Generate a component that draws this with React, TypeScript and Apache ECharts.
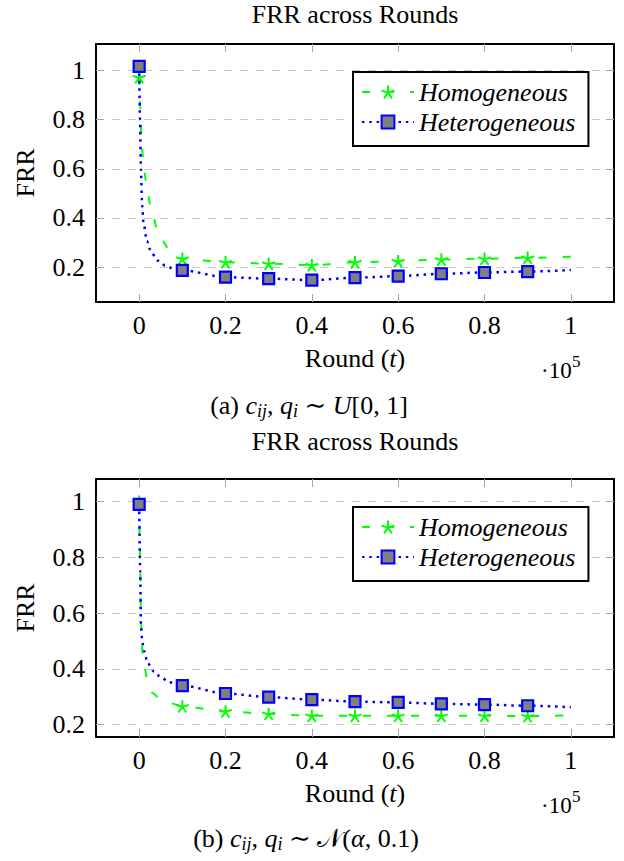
import React, { useEffect, useRef } from 'react';
import * as echarts from 'echarts';

const FONT = "'Liberation Serif', 'Times New Roman', 'DejaVu Serif', serif";

// Shared x values (markers every 10^4 rounds)
const ROUNDS = [0, 10000, 20000, 30000, 40000, 50000, 60000, 70000, 80000, 90000];
const ROUND_END = 100000;
const X_TICKS = [0, 20000, 40000, 60000, 80000, 100000];
const Y_TICKS = [0.2, 0.4, 0.6, 0.8, 1];

// (a) c_ij, q_i ~ U[0,1]
const A_HOM = [0.973, 0.234, 0.22, 0.214, 0.208, 0.22, 0.224, 0.231, 0.234, 0.238];
const A_HOM_END = 0.242;
const A_HOM_EARLY_X = [250, 600, 1200, 1900, 2900, 4800, 7800];
const A_HOM_EARLY_Y = [0.85, 0.69, 0.585, 0.505, 0.42, 0.317, 0.252];
const A_HET = [1.017, 0.187, 0.159, 0.153, 0.147, 0.157, 0.163, 0.173, 0.178, 0.182];
const A_HET_END = 0.188;
const A_HET_EARLY_X = [200, 400, 700, 1000, 1800, 2500, 4200, 6000, 8000];
const A_HET_EARLY_Y = [0.8, 0.6, 0.45, 0.38, 0.306, 0.272, 0.227, 0.207, 0.193];

// (b) c_ij, q_i ~ N(alpha, 0.1)
const B_HOM = [1.0, 0.266, 0.248, 0.239, 0.232, 0.232, 0.232, 0.232, 0.232, 0.231];
const B_HOM_END = 0.234;
const B_HOM_EARLY_X = [200, 450, 800, 1300, 2000, 3000, 5000, 7500];
const B_HOM_EARLY_Y = [0.8, 0.56, 0.45, 0.4, 0.35, 0.315, 0.29, 0.276];
const B_HET = [0.99, 0.34, 0.312, 0.299, 0.29, 0.283, 0.28, 0.275, 0.272, 0.268];
const B_HET_END = 0.263;
const B_HET_EARLY_X = [250, 400, 700, 1100, 2000, 3500, 5000, 7000];
const B_HET_EARLY_Y = [0.75, 0.56, 0.5, 0.465, 0.42, 0.39, 0.37, 0.352];

const X_MIN = -10000;
const X_MAX = 110000;
const A_Y_RANGE = [0.058, 1.108];
const B_Y_RANGE = [0.156, 1.081];

const STAR =
  'path://M0,-10L0,0M9.511,-3.09L0,0M5.878,8.09L0,0M-5.878,8.09L0,0M-9.511,-3.09L0,0';

function buildCurve(markers: number[], endY: number, earlyX: number[], earlyY: number[]) {
  const pts: any[] = [];
  ROUNDS.forEach((x, i) => pts.push({ value: [x, markers[i]] }));
  earlyX.forEach((x, i) => pts.push({ value: [x, earlyY[i]], symbol: 'none' }));
  pts.push({ value: [ROUND_END, endY], symbol: 'none' });
  pts.sort((a, b) => a.value[0] - b.value[0]);
  return pts;
}

const fmtX = (v: number) => String(Math.round(v / 10000) / 10);
const fmtY = (v: number) => String(Math.round(v * 10) / 10);

function xAxes(gridIndex: number) {
  const base = {
    type: 'value',
    gridIndex,
    min: X_MIN,
    max: X_MAX,
    axisLine: { show: true, onZero: false, lineStyle: { color: '#000', width: 2 } },
    axisTick: { show: true, inside: true, length: 8, customValues: X_TICKS, lineStyle: { color: '#a8a8a8', width: 1 } },
    splitLine: { show: false },
  };
  return [
    {
      ...base,
      position: 'bottom',
      axisLabel: {
        show: true,
        customValues: X_TICKS,
        formatter: fmtX,
        margin: 10,
        fontSize: 26,
        fontFamily: FONT,
        color: '#000',
      },
      name: 'Round ({i|t})',
      nameLocation: 'middle',
      nameGap: 43,
      nameTextStyle: {
        fontSize: 26,
        fontFamily: FONT,
        color: '#000',
        rich: { i: { fontSize: 26, fontFamily: FONT, fontStyle: 'italic', color: '#000' } },
      },
    },
    { ...base, position: 'top', axisLabel: { show: false } },
  ];
}

function yAxes(gridIndex: number, range: number[]) {
  const base = {
    type: 'value',
    gridIndex,
    min: range[0],
    max: range[1],
    axisLine: { show: true, onZero: false, lineStyle: { color: '#000', width: 2 } },
    axisTick: { show: true, inside: true, length: 8, customValues: Y_TICKS, lineStyle: { color: '#a8a8a8', width: 1 } },
  };
  return [
    {
      ...base,
      position: 'left',
      axisLabel: {
        show: true,
        customValues: Y_TICKS,
        formatter: fmtY,
        margin: 11,
        fontSize: 26,
        fontFamily: FONT,
        color: '#000',
      },
      splitLine: { show: true, lineStyle: { color: '#c8c8c8', width: 1, type: [8, 8] } },
      name: 'FRR',
      nameLocation: 'middle',
      nameRotate: 90,
      nameGap: 58,
      nameTextStyle: { fontSize: 26, fontFamily: FONT, color: '#000' },
    },
    { ...base, position: 'right', axisLabel: { show: false }, splitLine: { show: false } },
  ];
}

function seriesPair(xIdx: number, yIdx: number, hom: any[], het: any[]) {
  return [
    {
      type: 'line',
      name: 'Homogeneous',
      xAxisIndex: xIdx,
      yAxisIndex: yIdx,
      data: hom,
      smooth: 0.3,
      smoothMonotone: 'x',
      symbol: STAR,
      symbolSize: 13,
      symbolKeepAspect: true,
      showSymbol: true,
      lineStyle: { color: '#00ff00', width: 2, type: [8, 16] },
      itemStyle: { color: '#00ff00', borderColor: '#00ff00', borderWidth: 2 },
      emphasis: { disabled: true },
      z: 2,
    },
    {
      type: 'line',
      name: 'Heterogeneous',
      xAxisIndex: xIdx,
      yAxisIndex: yIdx,
      data: het,
      smooth: 0.3,
      smoothMonotone: 'x',
      symbol: 'rect',
      symbolSize: 11,
      showSymbol: true,
      lineStyle: { color: '#0000ff', width: 2.5, type: [2.5, 4.8] },
      itemStyle: { color: '#808080', borderColor: '#0000ff', borderWidth: 2.2 },
      emphasis: { disabled: true },
      z: 3,
    },
  ];
}

function legendAt(top: number) {
  return {
    show: true,
    orient: 'vertical',
    left: 353,
    top,
    data: ['Homogeneous', 'Heterogeneous'],
    itemWidth: 52,
    itemHeight: 16,
    itemGap: 4,
    padding: [7, 13, 11, 8],
    borderColor: '#000',
    borderWidth: 2,
    borderRadius: 0,
    backgroundColor: '#fff',
    selectedMode: false,
    textStyle: { fontSize: 26, fontStyle: 'italic', fontFamily: FONT, color: '#000', lineHeight: 26 },
  };
}

function caption(text: string, x: number, y: number) {
  return {
    type: 'text',
    x,
    y,
    style: {
      text,
      fontSize: 26,
      fontFamily: FONT,
      fill: '#000',
      align: 'center',
      verticalAlign: 'middle',
      lineHeight: 30,
      rich: {
        i: { fontSize: 26, fontFamily: FONT, fontStyle: 'italic', lineHeight: 30 },
        s: { fontSize: 18, fontFamily: FONT, fontStyle: 'italic', lineHeight: 18, verticalAlign: 'bottom' },
      },
    },
  };
}

function plainText(text: string, x: number, y: number, size: number, align = 'center') {
  return {
    type: 'text',
    x,
    y,
    style: { text, fontSize: size, fontFamily: FONT, fill: '#000', align, verticalAlign: 'middle' },
  };
}

export default function App() {
  const ref = useRef<HTMLDivElement>(null);
  useEffect(() => {
    const chart = echarts.init(ref.current!, null, { renderer: 'svg' });
    const option: any = {
      animation: false,
      backgroundColor: '#fff',
      grid: [
        { left: 96, top: 44, width: 518, height: 258, outerBoundsMode: 'none', containLabel: false },
        { left: 96, top: 479, width: 518, height: 258, outerBoundsMode: 'none', containLabel: false },
      ],
      xAxis: [...xAxes(0), ...xAxes(1)],
      yAxis: [...yAxes(0, A_Y_RANGE), ...yAxes(1, B_Y_RANGE)],
      legend: [legendAt(72), legendAt(507)],
      series: [
        ...seriesPair(
          0,
          0,
          buildCurve(A_HOM, A_HOM_END, A_HOM_EARLY_X, A_HOM_EARLY_Y),
          buildCurve(A_HET, A_HET_END, A_HET_EARLY_X, A_HET_EARLY_Y)
        ),
        ...seriesPair(
          2,
          2,
          buildCurve(B_HOM, B_HOM_END, B_HOM_EARLY_X, B_HOM_EARLY_Y),
          buildCurve(B_HET, B_HET_END, B_HET_EARLY_X, B_HET_EARLY_Y)
        ),
      ],
      graphic: [
        plainText('FRR across Rounds', 355, 14, 26),
        plainText('FRR across Rounds', 355, 441, 26),
        plainText('·10', 541, 370, 23, 'left'),
        plainText('5', 572, 361, 17, 'left'),
        plainText('·10', 541, 805, 23, 'left'),
        plainText('5', 572, 796, 17, 'left'),
        caption('(a) {i|c}{s|ij}, {i|q}{s|i} ∼ {i|U}[0, 1]', 309, 405),
        caption('(b) {i|c}{s|ij}, {i|q}{s|i} ∼ 𝒩({i|α}, 0.1)', 306, 838),
      ],
    };
    chart.setOption(option);
    return () => chart.dispose();
  }, []);
  return (
    <div
      ref={ref}
      style={{ position: 'absolute', left: 0, top: 0, width: 624, height: 861, background: '#fff' }}
    />
  );
}
